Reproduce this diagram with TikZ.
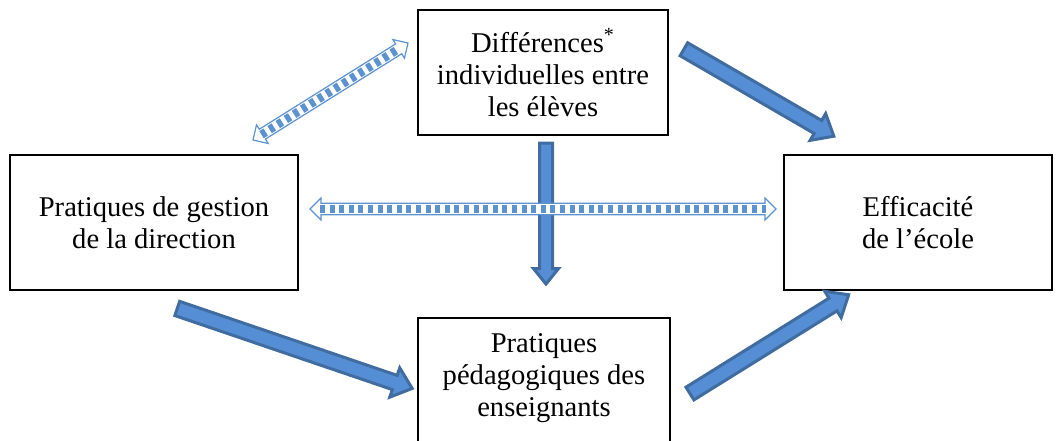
\documentclass[tikz,border=0pt]{standalone}
\usepackage{fontspec}
\setmainfont{Liberation Serif}
\usetikzlibrary{calc,shapes.arrows}

\definecolor{arrowfill}{RGB}{85,142,213}
\definecolor{arrowline}{RGB}{64,108,160}
\definecolor{stripeblue}{RGB}{91,146,207}

% block arrow from #2 to #3, drawn as a node with style #1
\newcommand{\blockarrow}[3]{%
  \path let \p1=($(#3)-(#2)$), \n1={veclen(\x1,\y1)} in
    (#2) -- node[#1, sloped, allow upside down, minimum height=\n1] {} (#3);}
% striped double arrow between #1 and #2
\newcommand{\stripedarrow}[2]{%
  \blockarrow{stripedarrow}{#1}{#2}
  \draw[stripes] ($(#1)!5pt!(#2)$) -- ($(#2)!5pt!(#1)$);}

\begin{document}
\begin{tikzpicture}[
                x=0.5pt, y=-0.5pt,
                box/.style={draw, line width=1pt, align=center, inner sep=0pt,
                    font=\fontsize{14.3}{16}\selectfont},
                txt/.style={align=center, inner sep=0pt, font=\fontsize{14.3}{16}\selectfont},
                solidarrow/.style={single arrow, draw=arrowline, fill=arrowfill, line width=1.5pt,
                    inner sep=3pt, single arrow head extend=4pt, single arrow tip angle=80},
                downarrow/.style={solidarrow, inner sep=2.5pt, single arrow head extend=3pt,
                    single arrow tip angle=78},
                stripedarrow/.style={double arrow, draw=stripeblue, fill=white, line width=0.6pt,
                    inner sep=2.6pt, double arrow head extend=2.6pt, double arrow tip angle=90},
                stripes/.style={stripeblue, line width=4.2pt, dash pattern=on 2.5pt off 2.3pt}
            ]
                \useasboundingbox (0,0) rectangle (1063,440);
                \clip (0,0) rectangle (1063,440);

                % The four boxes
                \node[box, minimum width=125pt, minimum height=62.5pt] (diff) at (543,72.5)
                    {Différences\textsuperscript{*}\\individuelles entre\\les élèves};
                \node[box, minimum width=144pt, minimum height=67.5pt] (direction) at (154,222.5)
                    {Pratiques de gestion\\de la direction};
                \node[box, minimum width=134pt, minimum height=67.5pt] (efficacite) at (918,222.5)
                    {Efficacité\\de l’école};
                \node[box, minimum width=126pt, minimum height=90pt, anchor=north] (pedago) at (544,317) {};
                \node[txt, anchor=north] (pedagotxt) at ($(pedago.north)+(0,16)$)
                    {Pratiques\\pédagogiques des\\enseignants};

                % End points of the arrows
                \coordinate (diffout) at (680,47);
                \coordinate (efftop) at (830,134);
                \coordinate (dirout) at (173,307);
                \coordinate (pedin) at (408,387);
                \coordinate (pedout) at (686,396);
                \coordinate (effbot) at (845,297);
                \coordinate (diffdown) at (546,139);
                \coordinate (pedtop) at (546,280);
                \coordinate (hleft) at (310,209);
                \coordinate (hright) at (776,209);
                \coordinate (dlow) at (253,140);
                \coordinate (dhigh) at (408,43);

                % Solid arrows
                \blockarrow{solidarrow}{diffout}{efftop}
                \blockarrow{solidarrow}{dirout}{pedin}
                \blockarrow{solidarrow}{pedout}{effbot}
                \blockarrow{downarrow}{diffdown}{pedtop}

                % Striped double arrows
                \stripedarrow{hleft}{hright}
                \stripedarrow{dlow}{dhigh}

            \end{tikzpicture}
\end{document}
